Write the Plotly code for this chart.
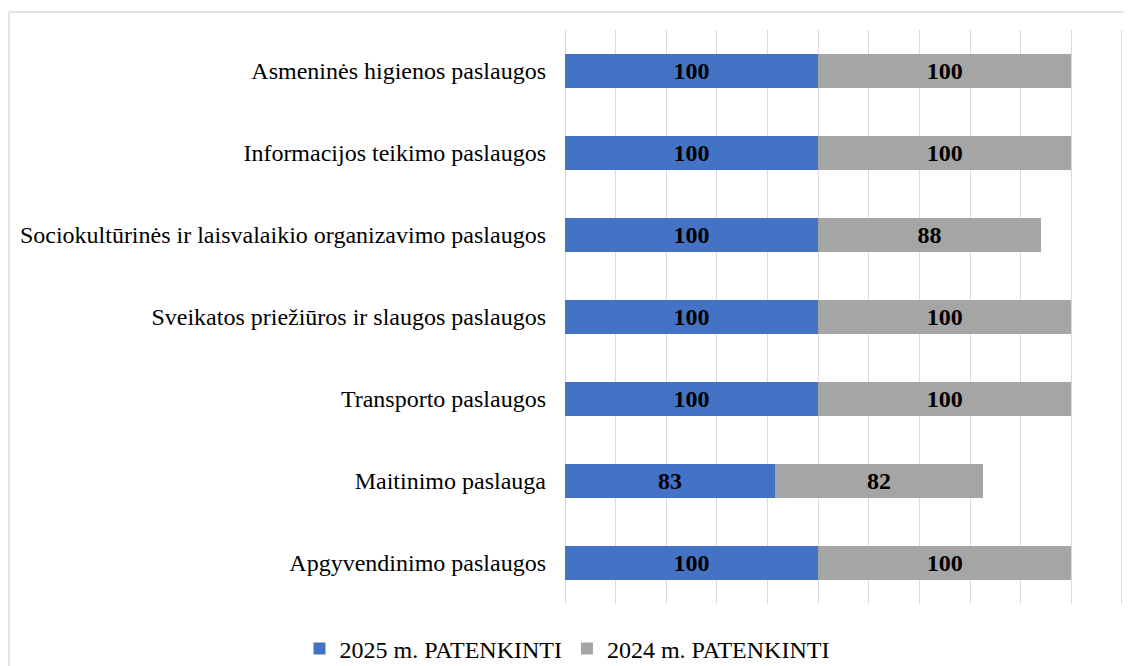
import plotly.graph_objects as go

categories = [
    "Apgyvendinimo paslaugos",
    "Maitinimo paslauga",
    "Transporto paslaugos",
    "Sveikatos priežiūros ir slaugos paslaugos",
    "Sociokultūrinės ir laisvalaikio organizavimo paslaugos",
    "Informacijos teikimo paslaugos",
    "Asmeninės higienos paslaugos",
]
values_2025 = [100, 83, 100, 100, 100, 100, 100]
values_2024 = [100, 82, 100, 100, 88, 100, 100]
series_names = ["2025 m. PATENKINTI", "2024 m. PATENKINTI"]

FONT = "Liberation Serif, Times New Roman, serif"

W, H = 1124, 658
L, R, T, B = 557, 9, 22, 62
PW, PH = W - L - R, H - T - B

fig = go.Figure()
fig.add_trace(go.Bar(
    y=categories, x=values_2025, orientation="h", name=series_names[0],
    marker=dict(color="#4472C4", line=dict(width=0)),
    text=values_2025, textposition="inside", insidetextanchor="middle",
    textfont=dict(family=FONT, size=24, color="black", weight="bold"),
))
fig.add_trace(go.Bar(
    y=categories, x=values_2024, orientation="h", name=series_names[1],
    marker=dict(color="#A5A5A5", line=dict(width=0)),
    text=values_2024, textposition="inside", insidetextanchor="middle",
    textfont=dict(family=FONT, size=24, color="black", weight="bold"),
))

fig.update_layout(
    barmode="stack",
    bargap=0.59,
    width=W, height=H,
    margin=dict(l=L, r=R, t=T, b=B),
    paper_bgcolor="white", plot_bgcolor="white",
    font=dict(family=FONT, size=24, color="black"),
    showlegend=True,
    legend=dict(
        orientation="h", xref="container", yref="container",
        x=(567 - 8) / W, y=1 - (649 - 8) / H, xanchor="center", yanchor="middle",
        font=dict(family=FONT, size=24, color="black"),
        traceorder="normal", itemwidth=30,
    ),
    xaxis=dict(
        range=[0, 220.4], tick0=0, dtick=20, showticklabels=False,
        showgrid=True, gridcolor="#D9D9D9", gridwidth=1,
        zeroline=True, zerolinecolor="#D9D9D9", zerolinewidth=1,
        showline=False, fixedrange=True,
    ),
    yaxis=dict(
        showgrid=False, showline=False, zeroline=False,
        ticks="", ticklabelstandoff=18,
        tickfont=dict(family=FONT, size=24, color="black"),
    ),
    shapes=[
        dict(type="line", xref="paper", yref="paper",
             x0=(1 - L) / PW, x1=(W + 10 - L) / PW,
             y0=(H - B - 4) / PH, y1=(H - B - 4) / PH,
             line=dict(color="#D9D9D9", width=1.5)),
        dict(type="line", xref="paper", yref="paper",
             x0=(1 - L) / PW, x1=(1 - L) / PW,
             y0=(H - B - 4) / PH, y1=(-B - 20) / PH,
             line=dict(color="#D9D9D9", width=1.5)),
    ],
)

fig.write_html("out.html")
